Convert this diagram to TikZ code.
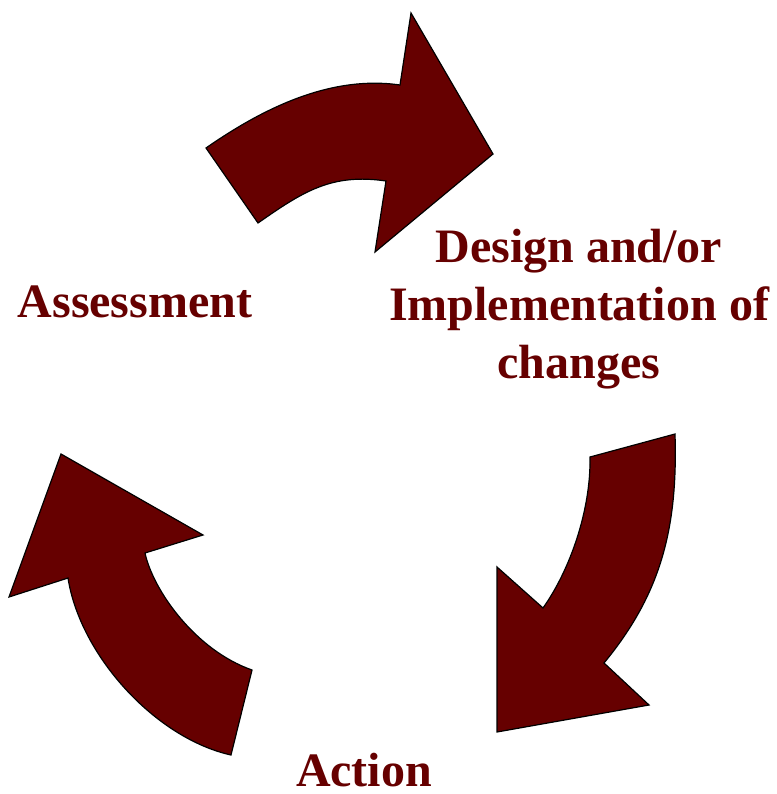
\documentclass[tikz,border=0pt]{standalone}
\usepackage{fontspec}
\setmainfont{Liberation Serif}
\definecolor{cyclered}{RGB}{102,0,0}
\tikzset{
	cyclearrow/.style={draw=black, fill=cyclered, line width=1.2pt, line join=miter},
	cyclelabel/.style={text=cyclered, font=\fontsize{48}{58}\selectfont\bfseries, inner sep=0pt}
}
\begin{document}
\begin{tikzpicture}[x=1pt, y=-1pt]
	\useasboundingbox (0,0) rectangle (776,794);

	% top arrow
	\draw[cyclearrow] (411,13) -- (493,154) -- (375,252) -- (386,181)
		.. controls (331.5,173) and (303,191.6) .. (258,223) -- (206,148)
		.. controls (263.5,108) and (330.7,75) .. (400,85) -- cycle;
	% right arrow
	\draw[cyclearrow] (675,434) .. controls (678,530) and (660,595) .. (604,663)
		-- (649,705) -- (497,732) -- (497,567) -- (543,608)
		.. controls (570,570) and (591,510) .. (590,457) -- cycle;
	% left arrow
	\draw[cyclearrow] (203,535) -- (61,454) -- (9,597) -- (68,578)
		.. controls (80,655) and (155,738) .. (231,755) -- (252,670)
		.. controls (195,650) and (153,590) .. (145,553) -- cycle;

	\node[cyclelabel, anchor=base] (assess) at (135,317) {Assessment};
	\node[cyclelabel, anchor=north, align=center] (design) at (579,229) {Design and/or\\Implementation of\\changes};
	\node[cyclelabel, anchor=base] (action) at (364,786) {Action};
\end{tikzpicture}
\end{document}
